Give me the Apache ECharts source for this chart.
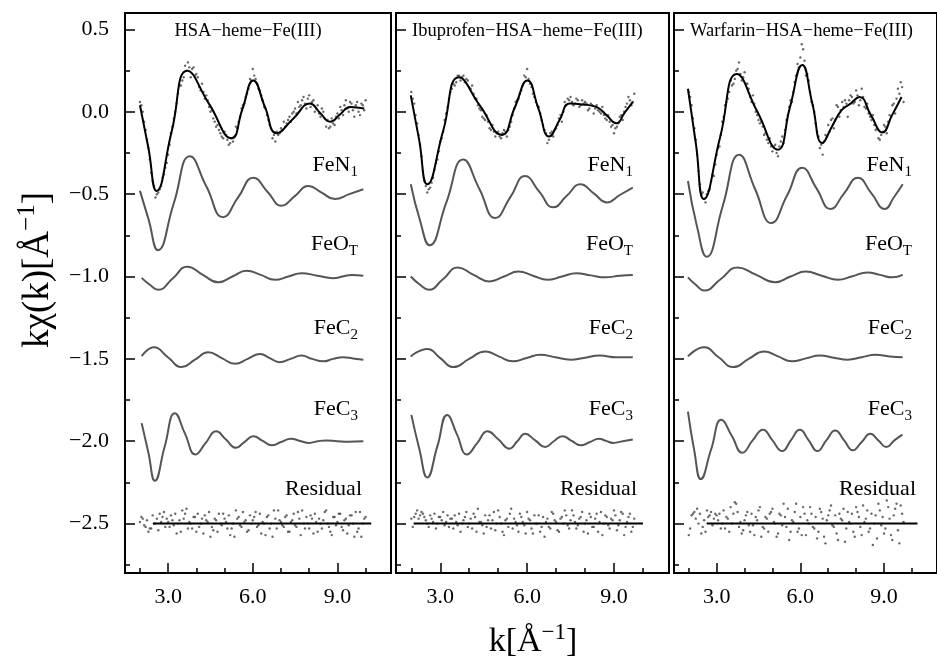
<!DOCTYPE html>
<html>
<head>
<meta charset="utf-8">
<title>EXAFS fits</title>
<script src="https://cdn.jsdelivr.net/npm/echarts@6.0.0/dist/echarts.min.js"></script>
<style>
html, body { margin: 0; padding: 0; background: #fff; }
#chart { width: 937px; height: 663px; }
</style>
</head>
<body>
<div id="chart"></div>
<script>
var titles = ['HSA\u2212heme\u2212Fe(III)', 'Ibuprofen\u2212HSA\u2212heme\u2212Fe(III)', 'Warfarin\u2212HSA\u2212heme\u2212Fe(III)'];

var xTicksMajor = [3, 6, 9];
var xTicksMinor = [2, 4, 5, 7, 8, 10];
var yTicksMajor = [-2.5, -2.0, -1.5, -1.0, -0.5, 0.0, 0.5];
var yTicksMinor = [-2.75, -2.25, -1.75, -1.25, -0.75, -0.25, 0.25];

// k of the measured points (two interleaved rows)
var kDots = [2.0, 2.1, 2.2, 2.3, 2.4, 2.5, 2.6, 2.7, 2.8, 2.9,
	3.0, 3.1, 3.2, 3.3, 3.4, 3.5, 3.6, 3.7, 3.8, 3.9,
	4.0, 4.1, 4.2, 4.3, 4.4, 4.5, 4.6, 4.7, 4.8, 4.9,
	5.0, 5.1, 5.2, 5.3, 5.4, 5.5, 5.6, 5.7, 5.8, 5.9,
	6.0, 6.1, 6.2, 6.3, 6.4, 6.5, 6.6, 6.7, 6.8, 6.9,
	7.0, 7.1, 7.2, 7.3, 7.4, 7.5, 7.6, 7.7, 7.8, 7.9,
	8.0, 8.1, 8.2, 8.3, 8.4, 8.5, 8.6, 8.7, 8.8, 8.9,
	9.0, 9.1, 9.2, 9.3, 9.4, 9.5, 9.6, 9.7, 9.8, 9.9,
	10.0];
var kDotsB = [2.05, 2.15, 2.25, 2.35, 2.45, 2.55, 2.65, 2.75, 2.85, 2.95,
	3.05, 3.15, 3.25, 3.35, 3.45, 3.55, 3.65, 3.75, 3.85, 3.95,
	4.05, 4.15, 4.25, 4.35, 4.45, 4.55, 4.65, 4.75, 4.85, 4.95,
	5.05, 5.15, 5.25, 5.35, 5.45, 5.55, 5.65, 5.75, 5.85, 5.95,
	6.05, 6.15, 6.25, 6.35, 6.45, 6.55, 6.65, 6.75, 6.85, 6.95,
	7.05, 7.15, 7.25, 7.35, 7.45, 7.55, 7.65, 7.75, 7.85, 7.95,
	8.05, 8.15, 8.25, 8.35, 8.45, 8.55, 8.65, 8.75, 8.85, 8.95,
	9.05, 9.15, 9.25, 9.35, 9.45, 9.55, 9.65, 9.75, 9.85, 9.95];

// measured k*chi(k)
var data1 = [0.06, 0.0, -0.11, -0.22, -0.37, -0.45, -0.50, -0.47, -0.40, -0.34,
	-0.26, -0.13, -0.04, 0.05, 0.16, 0.19, 0.28, 0.30, 0.21, 0.27,
	0.23, 0.15, 0.17, 0.08, 0.07, 0.0, -0.04, -0.09, -0.11, -0.15,
	-0.12, -0.17, -0.19, -0.18, -0.09, -0.06, 0.02, 0.05, 0.11, 0.20,
	0.26, 0.20, 0.14, 0.10, 0.03, -0.02, -0.08, -0.16, -0.18, -0.14,
	-0.10, -0.06, -0.07, -0.03, -0.01, 0.02, 0.06, 0.04, 0.09, 0.02,
	0.10, 0.06, 0.0, 0.04, -0.03, 0.0, -0.09, -0.10, -0.04, -0.08,
	-0.01, 0.03, -0.02, 0.07, 0.0, 0.05, -0.03, 0.06, -0.02, 0.04,
	0.07];
var data1b = [0.04, -0.06, -0.17, -0.29, -0.42, -0.52, -0.49, -0.45, -0.38, -0.31,
	-0.20, -0.09, 0.0, 0.11, 0.16, 0.21, 0.25, 0.27, 0.26, 0.22,
	0.21, 0.13, 0.12, 0.10, 0.03, 0.01, -0.06, -0.08, -0.13, -0.16,
	-0.14, -0.20, -0.16, -0.15, -0.10, -0.03, 0.04, 0.09, 0.14, 0.19,
	0.22, 0.17, 0.13, 0.07, 0.02, -0.05, -0.10, -0.14, -0.12, -0.13,
	-0.11, -0.09, -0.05, -0.06, 0.0, -0.01, 0.03, 0.07, 0.05, 0.08,
	0.03, 0.07, 0.02, -0.01, 0.02, -0.04, -0.05, -0.09, -0.07, -0.03,
	-0.04, 0.01, 0.04, 0.02, 0.06, 0.01, 0.04, 0.0, 0.05, 0.01];
var data2 = [0.12, 0.05, -0.07, -0.20, -0.36, -0.45, -0.47, -0.43, -0.35, -0.29,
	-0.18, -0.12, -0.01, 0.08, 0.14, 0.16, 0.22, 0.19, 0.22, 0.20,
	0.15, 0.16, 0.08, 0.04, 0.01, -0.04, -0.02, -0.10, -0.08, -0.15,
	-0.12, -0.16, -0.11, -0.15, -0.09, -0.02, 0.06, 0.08, 0.13, 0.22,
	0.26, 0.17, 0.11, 0.06, 0.03, -0.05, -0.11, -0.19, -0.13, -0.15,
	-0.10, -0.04, -0.06, 0.06, 0.08, 0.09, 0.04, 0.08, 0.03, 0.07,
	0.06, 0.01, 0.05, -0.01, 0.04, 0.0, 0.03, -0.04, -0.02, -0.09,
	-0.13, -0.09, -0.03, -0.05, 0.03, 0.09, 0.04, 0.11];
var data2b = [0.08, -0.02, -0.14, -0.27, -0.42, -0.49, -0.46, -0.40, -0.31, -0.24,
	-0.16, -0.05, 0.03, 0.12, 0.17, 0.18, 0.22, 0.21, 0.18, 0.19,
	0.14, 0.11, 0.08, 0.02, -0.03, -0.05, -0.06, -0.11, -0.12, -0.13,
	-0.15, -0.13, -0.12, -0.11, -0.06, 0.02, 0.07, 0.11, 0.16, 0.21,
	0.20, 0.15, 0.09, 0.04, -0.01, -0.08, -0.13, -0.17, -0.12, -0.11,
	-0.08, -0.02, 0.0, 0.04, 0.07, 0.06, 0.05, 0.07, 0.04, 0.05,
	0.05, 0.02, 0.04, 0.02, 0.01, -0.01, -0.02, -0.05, -0.06, -0.08,
	-0.10, -0.07, -0.02, 0.0, 0.05, 0.07, 0.06];
var data3 = [0.12, 0.04, -0.10, -0.26, -0.44, -0.49, -0.55, -0.48, -0.42, -0.39,
	-0.26, -0.21, -0.06, 0.04, 0.08, 0.19, 0.17, 0.25, 0.30, 0.19,
	0.24, 0.17, 0.09, 0.10, 0.0, -0.05, -0.06, -0.14, -0.17, -0.16,
	-0.24, -0.20, -0.27, -0.18, -0.19, -0.05, 0.03, 0.06, 0.18, 0.29,
	0.33, 0.38, 0.22, 0.19, 0.06, 0.0, -0.12, -0.22, -0.26, -0.14,
	-0.08, -0.05, -0.10, 0.04, -0.03, 0.06, 0.07, -0.03, 0.10, 0.05,
	0.13, 0.04, 0.14, 0.03, 0.05, -0.03, -0.02, -0.11, -0.16, -0.14,
	-0.08, -0.13, -0.02, 0.04, -0.01, 0.14, 0.18, 0.06];
var data3b = [0.09, -0.04, -0.17, -0.36, -0.50, -0.53, -0.50, -0.47, -0.38, -0.32,
	-0.22, -0.14, -0.03, 0.06, 0.12, 0.16, 0.20, 0.26, 0.23, 0.21,
	0.17, 0.14, 0.06, 0.05, -0.02, -0.07, -0.09, -0.13, -0.19, -0.21,
	-0.21, -0.25, -0.21, -0.15, -0.11, -0.02, 0.07, 0.12, 0.22, 0.27,
	0.41, 0.31, 0.23, 0.12, 0.04, -0.07, -0.15, -0.20, -0.18, -0.15,
	-0.12, -0.04, -0.05, 0.03, 0.01, 0.03, 0.05, 0.07, 0.09, 0.06,
	0.10, 0.07, 0.09, 0.02, -0.01, -0.05, -0.08, -0.10, -0.17, -0.12,
	-0.09, -0.06, -0.03, 0.05, 0.08, 0.11, 0.15];

// residuals, plotted around -2.5
var resid1 = [-2.49, -2.47, -2.52, -2.55, -2.53, -2.50, -2.47, -2.44, -2.46, -2.52,
	-2.49, -2.45, -2.51, -2.56, -2.48, -2.42, -2.44, -2.53, -2.50, -2.46,
	-2.55, -2.52, -2.47, -2.45, -2.49, -2.58, -2.54, -2.48, -2.44, -2.51,
	-2.47, -2.53, -2.57, -2.50, -2.42, -2.46, -2.52, -2.49, -2.55, -2.45,
	-2.48, -2.43, -2.51, -2.56, -2.50, -2.46, -2.53, -2.58, -2.47, -2.42,
	-2.49, -2.52, -2.45, -2.55, -2.48, -2.51, -2.43, -2.57, -2.50, -2.46,
	-2.53, -2.47, -2.44, -2.55, -2.50, -2.48, -2.42, -2.52, -2.57, -2.46,
	-2.49, -2.44, -2.54, -2.47, -2.51, -2.45, -2.58, -2.55, -2.43, -2.50,
	-2.46];
var resid1b = [-2.46, -2.51, -2.48, -2.53, -2.45, -2.50, -2.54, -2.49, -2.43, -2.47,
	-2.52, -2.48, -2.44, -2.50, -2.55, -2.47, -2.41, -2.49, -2.53, -2.46,
	-2.44, -2.50, -2.56, -2.48, -2.43, -2.52, -2.47, -2.55, -2.50, -2.44,
	-2.49, -2.45, -2.53, -2.58, -2.47, -2.51, -2.43, -2.48, -2.54, -2.50,
	-2.46, -2.52, -2.44, -2.49, -2.57, -2.45, -2.50, -2.42, -2.53, -2.48,
	-2.51, -2.46, -2.55, -2.49, -2.44, -2.52, -2.47, -2.42, -2.53, -2.50,
	-2.45, -2.56, -2.49, -2.47, -2.53, -2.43, -2.50, -2.55, -2.46, -2.51,
	-2.44, -2.52, -2.48, -2.56, -2.45, -2.50, -2.43, -2.53, -2.58, -2.47];
var resid2 = [-2.47, -2.46, -2.42, -2.45, -2.44, -2.48, -2.52, -2.47, -2.44, -2.50,
	-2.46, -2.43, -2.49, -2.52, -2.47, -2.45, -2.51, -2.55, -2.48, -2.43,
	-2.50, -2.53, -2.46, -2.41, -2.49, -2.56, -2.52, -2.45, -2.48, -2.54,
	-2.42, -2.50, -2.57, -2.47, -2.44, -2.53, -2.49, -2.55, -2.46, -2.51,
	-2.43, -2.48, -2.56, -2.50, -2.45, -2.52, -2.58, -2.47, -2.53, -2.44,
	-2.49, -2.55, -2.46, -2.42, -2.51, -2.48, -2.45, -2.53, -2.47, -2.43,
	-2.50, -2.56, -2.46, -2.52, -2.44, -2.49, -2.57, -2.45, -2.51, -2.47,
	-2.42, -2.54, -2.48, -2.44, -2.52, -2.46, -2.55, -2.47];
var resid2b = [-2.52, -2.44, -2.47, -2.43, -2.46, -2.50, -2.45, -2.49, -2.53, -2.46,
	-2.48, -2.51, -2.45, -2.47, -2.53, -2.49, -2.44, -2.50, -2.46, -2.52,
	-2.47, -2.44, -2.55, -2.49, -2.51, -2.45, -2.48, -2.53, -2.43, -2.50,
	-2.46, -2.55, -2.48, -2.52, -2.41, -2.47, -2.51, -2.44, -2.49, -2.56,
	-2.47, -2.53, -2.45, -2.50, -2.55, -2.46, -2.49, -2.52, -2.43, -2.48,
	-2.54, -2.47, -2.50, -2.45, -2.53, -2.42, -2.49, -2.51, -2.46, -2.55,
	-2.48, -2.44, -2.52, -2.47, -2.55, -2.43, -2.50, -2.46, -2.53, -2.48,
	-2.45, -2.51, -2.43, -2.57, -2.49, -2.44, -2.52];
var resid3 = [-2.57, -2.45, -2.43, -2.41, -2.44, -2.52, -2.55, -2.46, -2.43, -2.47,
	-2.45, -2.44, -2.50, -2.53, -2.47, -2.40, -2.44, -2.38, -2.52, -2.56,
	-2.48, -2.43, -2.55, -2.51, -2.46, -2.42, -2.58, -2.53, -2.47, -2.44,
	-2.41, -2.50, -2.56, -2.45, -2.38, -2.52, -2.60, -2.48, -2.43, -2.55,
	-2.46, -2.40, -2.57, -2.50, -2.44, -2.53, -2.59, -2.41, -2.47, -2.62,
	-2.45, -2.39, -2.52, -2.56, -2.44, -2.48, -2.61, -2.43, -2.50, -2.55,
	-2.40, -2.46, -2.57, -2.49, -2.42, -2.53, -2.63, -2.45, -2.38, -2.51,
	-2.56, -2.36, -2.47, -2.60, -2.41, -2.54, -2.39, -2.49];
var resid3b = [-2.53, -2.44, -2.47, -2.50, -2.56, -2.48, -2.42, -2.45, -2.51, -2.44,
	-2.48, -2.53, -2.42, -2.46, -2.55, -2.50, -2.37, -2.43, -2.49, -2.54,
	-2.45, -2.51, -2.44, -2.57, -2.48, -2.40, -2.52, -2.46, -2.55, -2.43,
	-2.49, -2.58, -2.44, -2.51, -2.46, -2.41, -2.55, -2.49, -2.38, -2.53,
	-2.57, -2.44, -2.48, -2.40, -2.52, -2.46, -2.55, -2.43, -2.58, -2.48,
	-2.42, -2.51, -2.45, -2.60, -2.47, -2.41, -2.53, -2.49, -2.44, -2.58,
	-2.43, -2.52, -2.39, -2.47, -2.55, -2.44, -2.50, -2.59, -2.42, -2.46,
	-2.53, -2.40, -2.57, -2.45, -2.38, -2.62, -2.44];

// fitted curves [k, value]
var fit1 = [[2.0, 0.04], [2.3, -0.22], [2.59, -0.48], [3.13, -0.115], [3.68, 0.25], [4.46, 0.045], [5.25, -0.16],
	[5.63, 0.015], [6.02, 0.19], [6.43, 0.03], [6.85, -0.13], [7.44, -0.04], [8.03, 0.05], [8.38, -0.005],
	[8.74, -0.06], [9.1, -0.015], [9.45, 0.03], [9.95, 0.02]];
var fit2 = [[1.98, 0.10], [2.27, -0.17], [2.55, -0.44], [3.1, -0.115], [3.64, 0.21], [4.38, 0.035], [5.13, -0.14],
	[5.57, 0.025], [6.01, 0.19], [6.39, 0.02], [6.76, -0.15], [7.12, -0.05], [7.47, 0.05], [7.9, 0.045],
	[8.39, 0.03], [8.74, -0.02], [9.08, -0.07], [9.37, -0.005], [9.65, 0.06]];
var fit3 = [[1.97, 0.14], [2.26, -0.2], [2.54, -0.53], [3.13, -0.15], [3.72, 0.23], [4.46, 0.0], [5.19, -0.23],
	[5.63, 0.03], [6.07, 0.285], [6.43, 0.05], [6.79, -0.19], [7.13, -0.09], [7.48, 0.01], [7.8, 0.05],
	[8.12, 0.09], [8.53, -0.02], [8.94, -0.125], [9.29, -0.02], [9.63, 0.09]];

// single shell contributions, shifted by -0.5 each
var feN1 = [
	[[2.0, -0.48], [2.3, -0.65], [2.64, -0.84], [3.2, -0.555], [3.77, -0.27], [4.36, -0.455], [4.95, -0.64],
		[5.48, -0.52], [6.02, -0.40], [6.52, -0.485], [7.02, -0.57], [7.5, -0.51], [7.97, -0.45], [8.44, -0.49],
		[8.91, -0.53], [9.42, -0.5], [9.92, -0.47]],
	[[1.98, -0.44], [2.3, -0.66], [2.63, -0.81], [3.21, -0.55], [3.79, -0.29], [4.35, -0.468], [4.9, -0.645],
		[5.42, -0.518], [5.93, -0.39], [6.42, -0.485], [6.9, -0.58], [7.37, -0.51], [7.84, -0.44], [8.3, -0.495],
		[8.76, -0.55], [9.2, -0.505], [9.65, -0.46]],
	[[1.97, -0.42], [2.3, -0.7], [2.64, -0.88], [3.22, -0.57], [3.81, -0.26], [4.38, -0.47], [4.96, -0.675],
		[5.52, -0.51], [6.07, -0.34], [6.58, -0.465], [7.08, -0.59], [7.57, -0.495], [8.06, -0.40], [8.55, -0.495],
		[9.03, -0.59], [9.35, -0.52], [9.67, -0.44]]
];
var feOT = [
	[[2.06, -1.008], [2.35, -1.05], [2.65, -1.08], [3.17, -1.01], [3.68, -0.94], [4.23, -0.99], [4.78, -1.035],
		[5.28, -1.0], [5.78, -0.965], [6.28, -0.99], [6.79, -1.02], [7.26, -1.0], [7.73, -0.98], [8.29, -0.995],
		[8.85, -1.01], [9.5, -0.99], [9.92, -0.995]],
	[[1.98, -1.0], [2.3, -1.05], [2.6, -1.08], [3.1, -1.015], [3.6, -0.945], [4.15, -0.99], [4.7, -1.03],
		[5.2, -1.0], [5.7, -0.97], [6.2, -0.995], [6.7, -1.02], [7.2, -1.0], [7.7, -0.98], [8.2, -0.993],
		[8.7, -1.005], [9.2, -0.995], [9.65, -0.99]],
	[[1.97, -1.005], [2.25, -1.05], [2.55, -1.085], [3.15, -1.015], [3.75, -0.945], [4.42, -0.99], [5.1, -1.035],
		[5.65, -1.0], [6.2, -0.97], [6.77, -0.995], [7.35, -1.02], [7.87, -0.998], [8.4, -0.975], [8.85, -0.99],
		[9.3, -1.005], [9.67, -0.99]]
];
var feC2 = [
	[[2.06, -1.483], [2.5, -1.43], [2.99, -1.49], [3.48, -1.55], [3.95, -1.505], [4.42, -1.46], [4.9, -1.495],
		[5.37, -1.53], [5.82, -1.5], [6.26, -1.47], [6.6, -1.495], [6.95, -1.52], [7.34, -1.5], [7.73, -1.48],
		[8.1, -1.5], [8.5, -1.515], [8.85, -1.5], [9.2, -1.49], [9.55, -1.497], [9.92, -1.505]],
	[[1.98, -1.485], [2.55, -1.44], [3.0, -1.495], [3.45, -1.55], [4.0, -1.5], [4.55, -1.455], [5.02, -1.485],
		[5.5, -1.515], [5.98, -1.495], [6.45, -1.475], [6.97, -1.49], [7.5, -1.505], [8.0, -1.493], [8.5, -1.48],
		[9.1, -1.49], [9.65, -1.49]],
	[[1.97, -1.485], [2.55, -1.43], [3.07, -1.49], [3.6, -1.55], [4.15, -1.5], [4.7, -1.455], [5.2, -1.485],
		[5.7, -1.515], [6.2, -1.497], [6.7, -1.48], [7.2, -1.493], [7.7, -1.505], [8.2, -1.49], [8.7, -1.475],
		[9.2, -1.485], [9.67, -1.49]]
];
var feC3 = [
	[[2.06, -1.89], [2.3, -2.07], [2.53, -2.24], [2.88, -2.03], [3.24, -1.83], [3.6, -1.955], [3.97, -2.08],
		[4.33, -2.01], [4.7, -1.94], [5.05, -1.99], [5.4, -2.04], [5.7, -2.005], [6.02, -1.97], [6.35, -1.998],
		[6.67, -2.025], [7.0, -2.005], [7.35, -1.985], [7.68, -1.998], [8.0, -2.01], [8.3, -2.0], [8.6, -1.995],
		[9.0, -2.0], [9.4, -2.003], [9.92, -2.0]],
	[[2.0, -1.84], [2.28, -2.05], [2.55, -2.22], [2.9, -2.03], [3.24, -1.84], [3.58, -1.96], [3.92, -2.08],
		[4.28, -2.01], [4.63, -1.94], [5.01, -1.99], [5.39, -2.045], [5.66, -2.0], [5.93, -1.955], [6.28, -1.995],
		[6.62, -2.035], [6.92, -2.0], [7.22, -1.97], [7.54, -1.998], [7.85, -2.025], [8.17, -2.005], [8.48, -1.985],
		[8.73, -1.998], [8.97, -2.01], [9.3, -2.0], [9.65, -1.99]],
	[[1.97, -1.82], [2.2, -2.06], [2.43, -2.23], [2.8, -2.05], [3.17, -1.87], [3.55, -1.97], [3.92, -2.07],
		[4.29, -1.995], [4.66, -1.93], [5.0, -1.995], [5.35, -2.06], [5.66, -1.995], [5.98, -1.93], [6.3, -1.995],
		[6.61, -2.06], [6.93, -1.995], [7.25, -1.935], [7.57, -1.995], [7.88, -2.055], [8.2, -2.005], [8.51, -1.955],
		[8.8, -1.995], [9.08, -2.035], [9.37, -1.995], [9.66, -1.96]]
];

// zero line of the residual
var residLine = [
	[[2.46, -2.5], [10.2, -2.5]],
	[[2.08, -2.5], [10.0, -2.5]],
	[[2.64, -2.5], [10.2, -2.5]]
];

var dataSets = [[data1, data1b], [data2, data2b], [data3, data3b]];
var residSets = [[resid1, resid1b], [resid2, resid2b], [resid3, resid3b]];
var fitSets = [fit1, fit2, fit3];

var serif = '"Liberation Serif", "DejaVu Serif", serif';

function pairs(ks, vs) {
	var out = [];
	for (var i = 0; i < vs.length; i++) {
		out.push([ks[i], vs[i]]);
	}
	return out;
}

function fmt(v) {
	return v.toFixed(1).replace('-', '\u2212');
}

var grids = [
	{left: 125, top: 13, width: 266, height: 560},
	{left: 396, top: 13, width: 273, height: 560},
	{left: 674, top: 13, width: 274, height: 560}
];
var labelRight = [358, 633, 912];

var xAxes = [], yAxes = [], series = [], graphics = [];

for (var p = 0; p < 3; p++) {
	grids[p].show = true;
	grids[p].borderColor = '#000';
	grids[p].borderWidth = 2;

	xAxes.push({
		type: 'value', gridIndex: p, min: 1.47, max: 10.9, position: 'bottom',
		axisLine: {onZero: false, lineStyle: {color: '#000', width: 2}},
		axisTick: {inside: true, length: 10, customValues: xTicksMajor, lineStyle: {color: '#000', width: 1.5}},
		axisLabel: {customValues: xTicksMajor, formatter: fmt, margin: 13, fontSize: 22, fontFamily: serif, color: '#000'},
		splitLine: {show: false}
	});
	yAxes.push({
		type: 'value', gridIndex: p, min: -2.8, max: 0.6, position: 'left',
		axisLine: {onZero: false, lineStyle: {color: '#000', width: 2}},
		axisTick: {inside: true, length: 10, customValues: yTicksMajor, lineStyle: {color: '#000', width: 1.5}},
		axisLabel: {show: p == 0, customValues: yTicksMajor, formatter: fmt, margin: 16, fontSize: 22, fontFamily: serif, color: '#000'},
		splitLine: {show: false}
	});
}
// short ticks
for (var p = 0; p < 3; p++) {
	xAxes.push({
		type: 'value', gridIndex: p, min: 1.47, max: 10.9, position: 'bottom',
		axisLine: {show: false, onZero: false},
		axisTick: {inside: true, length: 5, customValues: xTicksMinor, lineStyle: {color: '#000', width: 1.5}},
		axisLabel: {show: false},
		splitLine: {show: false}
	});
	yAxes.push({
		type: 'value', gridIndex: p, min: -2.8, max: 0.6, position: 'left',
		axisLine: {show: false, onZero: false},
		axisTick: {inside: true, length: 5, customValues: yTicksMinor, lineStyle: {color: '#000', width: 1.5}},
		axisLabel: {show: false},
		splitLine: {show: false}
	});
}

function curve(p, name, d, color, width) {
	return {
		name: name, type: 'line', xAxisIndex: p, yAxisIndex: p, data: d,
		smooth: 0.5, showSymbol: false, symbol: 'none',
		lineStyle: {color: color, width: width}
	};
}

function dots(p, name, d) {
	return {
		name: name, type: 'scatter', xAxisIndex: p, yAxisIndex: p, data: d,
		symbolSize: 2.4, itemStyle: {color: '#444'}
	};
}

for (var p = 0; p < 3; p++) {
	for (var r = 0; r < 2; r++) {
		var ks = r == 0 ? kDots : kDotsB;
		series.push(dots(p, 'data', pairs(ks, dataSets[p][r])));
		series.push(dots(p, 'residual', pairs(ks, residSets[p][r])));
	}
	series.push(curve(p, 'fit', fitSets[p], '#000', 2));
	series.push(curve(p, 'FeN1', feN1[p], '#555', 2));
	series.push(curve(p, 'FeOT', feOT[p], '#555', 2));
	series.push(curve(p, 'FeC2', feC2[p], '#555', 2));
	series.push(curve(p, 'FeC3', feC3[p], '#555', 2));
	series.push({
		name: 'zero', type: 'line', xAxisIndex: p, yAxisIndex: p, data: residLine[p],
		showSymbol: false, symbol: 'none', lineStyle: {color: '#000', width: 2}
	});

	graphics.push({
		type: 'text', x: p == 0 ? 248 : grids[p].left + 16, y: 31,
		style: {text: titles[p], font: '18.5px ' + serif, fill: '#000', align: p == 0 ? 'center' : 'left', verticalAlign: 'middle'}
	});

	var shellLabels = [
		['FeN', '1', 165],
		['FeO', 'T', 244],
		['FeC', '2', 328],
		['FeC', '3', 409]
	];
	for (var j = 0; j < shellLabels.length; j++) {
		graphics.push({
			type: 'text', x: labelRight[p], y: shellLabels[j][2],
			style: {
				text: '{m|' + shellLabels[j][0] + '}{s|' + shellLabels[j][1] + '}',
				align: 'right', verticalAlign: 'middle',
				rich: {
					m: {fontSize: 22, fontFamily: serif, color: '#000', lineHeight: 30},
					s: {fontSize: 15, fontFamily: serif, color: '#000', lineHeight: 15, verticalAlign: 'bottom'}
				}
			}
		});
	}
	graphics.push({
		type: 'text', x: labelRight[p] + 4, y: 489,
		style: {text: 'Residual', font: '22px ' + serif, fill: '#000', align: 'right', verticalAlign: 'middle'}
	});
}

// axis names
graphics.push({
	type: 'text', x: 38, y: 270, rotation: Math.PI / 2,
	style: {
		text: '{a|k\u03c7(k)[\u00c5}{s|\u22121}{a|]}', align: 'center', verticalAlign: 'middle',
		rich: {
			a: {fontSize: 37, fontFamily: serif, color: '#000', lineHeight: 46},
			s: {fontSize: 25, fontFamily: serif, color: '#000', lineHeight: 25, verticalAlign: 'top'}
		}
	}
});
graphics.push({
	type: 'text', x: 533, y: 642,
	style: {
		text: '{a|k[\u00c5}{s|\u22121}{a|]}', align: 'center', verticalAlign: 'middle',
		rich: {
			a: {fontSize: 34, fontFamily: serif, color: '#000', lineHeight: 42},
			s: {fontSize: 23, fontFamily: serif, color: '#000', lineHeight: 23, verticalAlign: 'top'}
		}
	}
});

var myChart = echarts.init(document.getElementById('chart'));
myChart.setOption({
	animation: false,
	backgroundColor: '#fff',
	grid: grids,
	xAxis: xAxes,
	yAxis: yAxes,
	series: series,
	graphic: graphics
});
</script>
</body>
</html>
